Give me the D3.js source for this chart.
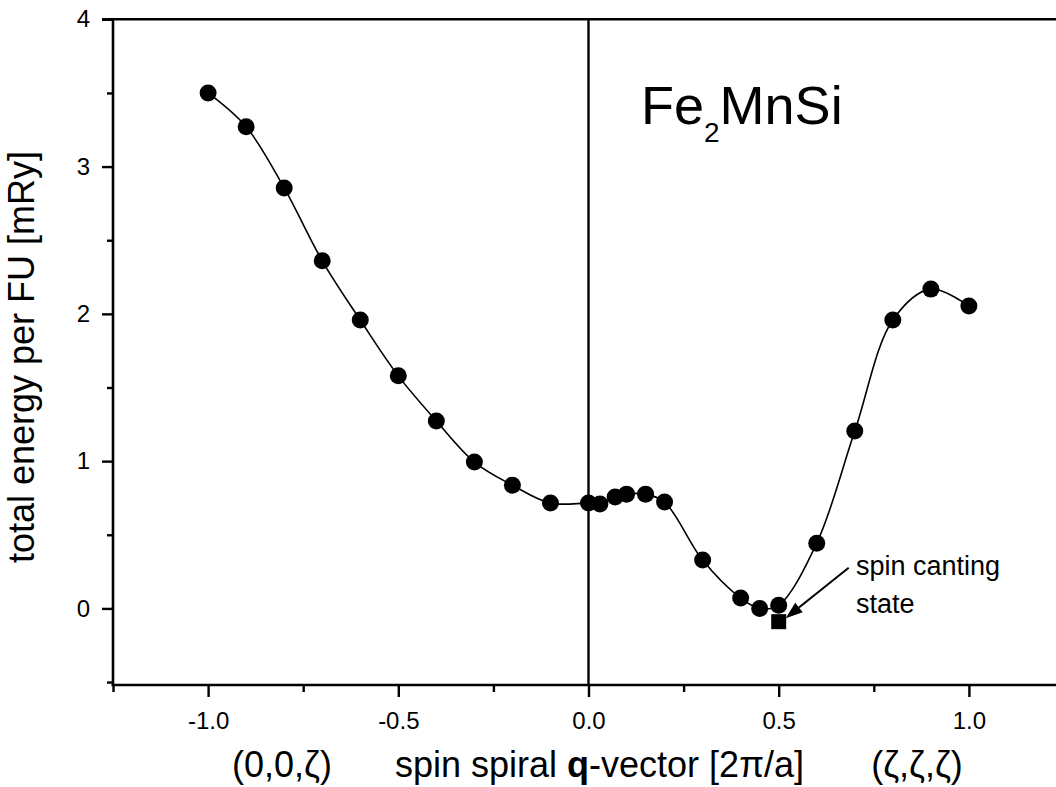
<!DOCTYPE html>
<html>
<head>
<meta charset="utf-8">
<script src="https://cdn.jsdelivr.net/npm/d3@7"></script>
<style>
  html, body { margin: 0; padding: 0; background: #fff; }
  svg { display: block; }
  text { font-family: "Liberation Sans", Arial, Helvetica, sans-serif; fill: #000; }
</style>
</head>
<body>
<svg id="chart" width="1056" height="787"></svg>
<script>
// Spin-spiral total energy of Fe2MnSi along (0,0,ζ) (negative side) and (ζ,ζ,ζ) (positive side)
const qValues = [-1.0, -0.9, -0.8, -0.7, -0.6, -0.5, -0.4, -0.3, -0.2, -0.1,
                 0.0, 0.03, 0.07, 0.1, 0.15, 0.2, 0.3, 0.4, 0.45, 0.5,
                 0.6, 0.7, 0.8, 0.9, 1.0];
const energies = [3.50, 3.27, 2.855, 2.36, 1.958, 1.579, 1.273, 0.994, 0.837, 0.715,
                  0.715, 0.709, 0.756, 0.776, 0.776, 0.722, 0.328, 0.070, 0.0, 0.022,
                  0.443, 1.204, 1.958, 2.168, 2.053];

// spin canting state
const cantingQ = [0.5];
const cantingEnergy = [-0.09];

const xMajorTicks = [-1.0, -0.5, 0.0, 0.5, 1.0];
const xMinorTicks = [-1.25, -0.75, -0.25, 0.25, 0.75];
const yMajorTicks = [0, 1, 2, 3, 4];
const yMinorTicks = [-0.5, 0.5, 1.5, 2.5, 3.5];

const svg = d3.select("#chart");

const x = d3.scaleLinear().domain([-1.25, 1.25]).range([113, 1064]);
const y = d3.scaleLinear().domain([-0.52, 4]).range([685, 19.3]);

const fmtX = d3.format(".1f");

// frame: left, bottom, top
const frame = svg.append("g").attr("stroke", "#000").attr("stroke-width", 2.6).attr("fill", "none");
frame.append("line").attr("x1", x(-1.25)).attr("x2", x(-1.25)).attr("y1", y(4) - 1.3).attr("y2", y(-0.52) + 1.3);
frame.append("line").attr("x1", x(-1.25) - 1.3).attr("x2", x(1.25)).attr("y1", y(-0.52)).attr("y2", y(-0.52));
frame.append("line").attr("x1", x(-1.25) - 11).attr("x2", x(1.25)).attr("y1", y(4)).attr("y2", y(4));

// bottom axis
const xAxisMajor = d3.axisBottom(x).tickValues(xMajorTicks).tickSize(12).tickPadding(15)
  .tickFormat(d => fmtX(d).replace("\u2212", "-"));
const gx = svg.append("g").attr("transform", `translate(0,${y(-0.52)})`).call(xAxisMajor);
gx.select(".domain").remove();
gx.selectAll(".tick line").attr("stroke", "#000").attr("stroke-width", 2.4);
gx.selectAll(".tick text").attr("font-size", 24).attr("font-family", "Liberation Sans, Arial, sans-serif");

const gxm = svg.append("g").attr("transform", `translate(0,${y(-0.52)})`)
  .call(d3.axisBottom(x).tickValues(xMinorTicks).tickSize(7).tickFormat(""));
gxm.select(".domain").remove();
gxm.selectAll(".tick line").attr("stroke", "#000").attr("stroke-width", 2.4);

// left axis
const yAxisMajor = d3.axisLeft(y).tickValues(yMajorTicks).tickSize(11).tickPadding(12)
  .tickFormat(d3.format("d"));
const gy = svg.append("g").attr("transform", `translate(${x(-1.25)},0)`).call(yAxisMajor);
gy.select(".domain").remove();
gy.selectAll(".tick line").attr("stroke", "#000").attr("stroke-width", 2.4);
gy.selectAll(".tick text").attr("font-size", 24).attr("font-family", "Liberation Sans, Arial, sans-serif");

const gym = svg.append("g").attr("transform", `translate(${x(-1.25)},0)`)
  .call(d3.axisLeft(y).tickValues(yMinorTicks).tickSize(6).tickFormat(""));
gym.select(".domain").remove();
gym.selectAll(".tick line").attr("stroke", "#000").attr("stroke-width", 2.4);

// vertical divider at q = 0
svg.append("line")
  .attr("x1", x(0)).attr("x2", x(0))
  .attr("y1", y(4)).attr("y2", y(-0.52))
  .attr("stroke", "#000").attr("stroke-width", 2.4);

// smooth energy curve
const pts = qValues.map((q, i) => [q, energies[i]]);
const line = d3.line()
  .x(d => x(d[0])).y(d => y(d[1]))
  .curve(d3.curveCatmullRom.alpha(0.5));
svg.append("path")
  .datum(pts)
  .attr("d", line)
  .attr("fill", "none")
  .attr("stroke", "#000")
  .attr("stroke-width", 1.6);

// data markers
svg.append("g").selectAll("circle")
  .data(pts)
  .join("circle")
  .attr("cx", d => x(d[0]))
  .attr("cy", d => y(d[1]))
  .attr("r", 8.5)
  .attr("fill", "#000");

// canting-state square marker
const sq = 15;
svg.append("g").selectAll("rect")
  .data(cantingQ.map((q, i) => [q, cantingEnergy[i]]))
  .join("rect")
  .attr("x", d => x(d[0]) - sq / 2)
  .attr("y", d => y(d[1]) - sq / 2)
  .attr("width", sq)
  .attr("height", sq)
  .attr("fill", "#000");

// annotation arrow pointing at the square
const cx = x(cantingQ[0]), cy = y(cantingEnergy[0]);
const tip = [cx + 7, cy - 3.5];
const tail = [cx + 70, cy - 54];
const ang = Math.atan2(tip[1] - tail[1], tip[0] - tail[0]);
const headLen = 17, headW = 6;
const base = [tip[0] - headLen * Math.cos(ang), tip[1] - headLen * Math.sin(ang)];
svg.append("line")
  .attr("x1", tail[0]).attr("y1", tail[1])
  .attr("x2", base[0]).attr("y2", base[1])
  .attr("stroke", "#000").attr("stroke-width", 2);
svg.append("polygon")
  .attr("points", [
    tip,
    [base[0] + headW * Math.sin(ang), base[1] - headW * Math.cos(ang)],
    [base[0] - headW * Math.sin(ang), base[1] + headW * Math.cos(ang)]
  ].map(p => p.join(",")).join(" "))
  .attr("fill", "#000");

svg.append("text").attr("x", 856).attr("y", 575).attr("font-size", 27).text("spin canting");
svg.append("text").attr("x", 856).attr("y", 613).attr("font-size", 27).text("state");

// compound label
const title = svg.append("text").attr("x", 641).attr("y", 124).attr("font-size", 54);
title.append("tspan").text("Fe");
title.append("tspan").attr("font-size", 28).attr("dy", 18).text("2");
title.append("tspan").attr("dy", -18).text("MnSi");

// axis titles
svg.append("text")
  .attr("transform", "translate(34,357) rotate(-90)")
  .attr("text-anchor", "middle")
  .attr("font-size", 36)
  .text("total energy per FU [mRy]");

svg.append("text").attr("x", 282).attr("y", 777).attr("text-anchor", "middle")
  .attr("font-size", 36).text("(0,0,\u03B6)");

const xt = svg.append("text").attr("x", 395).attr("y", 777).attr("font-size", 36);
xt.append("tspan").text("spin spiral ");
xt.append("tspan").attr("font-weight", "bold").text("q");
xt.append("tspan").text("-vector [2\u03C0/a]");

svg.append("text").attr("x", 917).attr("y", 777).attr("text-anchor", "middle")
  .attr("font-size", 36).text("(\u03B6,\u03B6,\u03B6)");
</script>
</body>
</html>
